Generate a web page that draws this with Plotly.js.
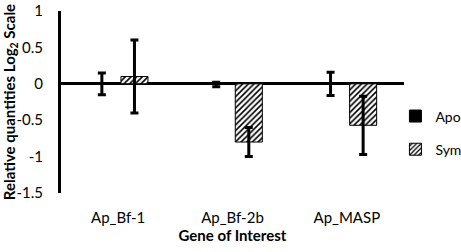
<!DOCTYPE html>
<html>
<head>
<meta charset="utf-8">
<script src="https://cdn.plot.ly/plotly-3.0.1.min.js"></script>
<style>html,body{margin:0;padding:0;background:#fff;}#chart{width:461px;height:252px;}</style>
</head>
<body>
<div id="chart"></div>
<script>
var genes = ["Ap_Bf-1", "Ap_Bf-2b", "Ap_MASP"];
var apoValues = [0.0, -0.01, 0.0];
var apoErrors = [0.15, 0.03, 0.16];
var symValues = [0.1, -0.8, -0.57];
var symErrors = [0.5, 0.2, 0.4];
var yTicks = [1, 0.5, 0, -0.5, -1, -1.5];
var yTickLabels = ["1", "0.5", "0", "-0.5", "-1", "-1.5"];

var font = "Lato, 'Liberation Sans', sans-serif";

var traces = [
  {
    type: "bar", name: "Apo", x: genes, y: apoValues, legendgroup: "a",
    marker: {color: "#000", line: {color: "#000", width: 1}},
    error_y: {type: "data", array: apoErrors, visible: true, color: "#000", thickness: 3, width: 4}
  },
  {
    type: "bar", name: "Sym", x: genes, y: symValues, legendgroup: "b",
    marker: {color: "#fff", line: {color: "#000", width: 1},
      pattern: {shape: "/", fgcolor: "#000", bgcolor: "#fff", size: 4, solidity: 0.4}},
    error_y: {type: "data", array: symErrors, visible: true, color: "#000", thickness: 3, width: 4}
  }
];

var layout = {
  width: 461, height: 252,
  margin: {l: 61, r: 57, t: 11, b: 59, autoexpand: false},
  paper_bgcolor: "#fff", plot_bgcolor: "#fff",
  font: {family: font, size: 15, color: "#000"},
  barmode: "group", bargap: 0.43, bargroupgap: 0.17,
  showlegend: true,
  legend: {x: 0.975, y: 0.33, xanchor: "left", yanchor: "middle", traceorder: "grouped",
    tracegroupgap: 12, font: {family: font, size: 14, color: "#000"}, itemwidth: 30, bgcolor: "rgba(0,0,0,0)"},
  xaxis: {
    showline: false, showgrid: false, zeroline: false, ticks: "",
    ticklabelstandoff: 14,
    tickfont: {family: font, size: 15, color: "#000"},
    title: {text: "<b>Gene of Interest</b>", font: {family: font, size: 15, color: "#000"}, standoff: 2}
  },
  yaxis: {
    range: [-1.5, 1], tickvals: yTicks, ticktext: yTickLabels,
    showline: true, linecolor: "#000", linewidth: 3,
    showgrid: false, zeroline: true, zerolinecolor: "#000", zerolinewidth: 3,
    ticks: "", ticklabelstandoff: 12,
    tickfont: {family: font, size: 15, color: "#000"},
    title: {text: "<b>Relative quantities Log<sub>2</sub> Scale</b>", font: {family: font, size: 15, color: "#000"}, standoff: 6}
  }
};

Plotly.newPlot("chart", traces, layout, {displayModeBar: false, staticPlot: true});
</script>
</body>
</html>
